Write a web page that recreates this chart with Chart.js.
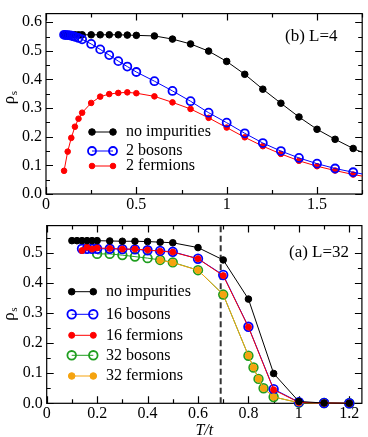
<!DOCTYPE html>
<html>
<head>
<meta charset="utf-8">
<script src="https://cdn.jsdelivr.net/npm/chart.js@4.4.0/dist/chart.umd.min.js"></script>
<style>
  html, body { margin: 0; padding: 0; background: #fff; }
  #wrap { position: relative; width: 368px; height: 437px; overflow: hidden; }
  #wrap canvas { position: absolute; left: 0; }
  #topChart { top: 0; }
  #bottomChart { top: 212px; }
</style>
</head>
<body>
<div id="wrap">
  <canvas id="topChart" width="368" height="212"></canvas>
  <canvas id="bottomChart" width="368" height="225"></canvas>
</div>
<script>
// (b) L=4
const l4Temps = [0.1, 0.12, 0.14, 0.16, 0.18, 0.2, 0.25, 0.3, 0.35, 0.4, 0.45, 0.5, 0.6, 0.7, 0.8, 0.9, 1.0, 1.1, 1.2, 1.3, 1.4, 1.5, 1.6, 1.7, 1.8];
const l4Pure = [0.556, 0.556, 0.556, 0.556, 0.556, 0.556, 0.556, 0.556, 0.556, 0.556, 0.555, 0.554, 0.552, 0.541, 0.524, 0.499, 0.463, 0.418, 0.366, 0.317, 0.269, 0.226, 0.191, 0.159, 0.132];
const l4Fermions = [0.081, 0.148, 0.196, 0.235, 0.263, 0.284, 0.318, 0.340, 0.349, 0.353, 0.355, 0.352, 0.341, 0.320, 0.297, 0.266, 0.232, 0.198, 0.167, 0.140, 0.116, 0.097, 0.082, 0.068, 0.057];
const l4BosonTemps = [0.1, 0.11, 0.12, 0.13, 0.14, 0.15, 0.16, 0.18, 0.2, 0.25, 0.3, 0.35, 0.4, 0.45, 0.5, 0.6, 0.7, 0.8, 0.9, 1.0, 1.1, 1.2, 1.3, 1.4, 1.5, 1.6, 1.7, 1.8];
const l4Bosons = [0.556, 0.555, 0.555, 0.554, 0.553, 0.551, 0.549, 0.545, 0.540, 0.524, 0.505, 0.485, 0.464, 0.445, 0.426, 0.394, 0.360, 0.324, 0.284, 0.249, 0.212, 0.178, 0.150, 0.126, 0.106, 0.089, 0.076, 0.064];

// (a) L=32
const l32Temps = [0.1, 0.12, 0.14, 0.16, 0.18, 0.2, 0.25, 0.3, 0.35, 0.4, 0.45, 0.5, 0.6, 0.7, 0.8, 0.9, 1.0, 1.1, 1.2];
const l32Pure = [0.540, 0.540, 0.540, 0.540, 0.540, 0.540, 0.539, 0.538, 0.538, 0.537, 0.535, 0.533, 0.517, 0.476, 0.346, 0.099, 0.006, 0.001, 0.000];
const l32Temps16 = [0.14, 0.16, 0.18, 0.2, 0.25, 0.3, 0.35, 0.4, 0.45, 0.5, 0.6, 0.7, 0.8, 0.9, 1.0, 1.1, 1.2];
const l32Bosons16 = [0.513, 0.513, 0.513, 0.513, 0.513, 0.512, 0.511, 0.508, 0.506, 0.503, 0.480, 0.426, 0.254, 0.047, 0.004, 0.001, 0.000];
const l32Fermions16 = [0.507, 0.518, 0.512, 0.516, 0.514, 0.512, 0.512, 0.509, 0.505, 0.502, 0.480, 0.424, 0.253, 0.045, 0.003, 0.001, 0.000];
const l32Temps32b = [0.2, 0.25, 0.3, 0.35, 0.4, 0.45, 0.5, 0.6, 0.7, 0.8, 0.82, 0.84, 0.86, 0.9, 1.0, 1.1, 1.2];
const l32Bosons32 = [0.496, 0.496, 0.492, 0.487, 0.482, 0.476, 0.468, 0.442, 0.361, 0.158, 0.119, 0.081, 0.050, 0.021, 0.002, 0.001, 0.000];
const l32Temps32f = [0.45, 0.5, 0.6, 0.7, 0.8, 0.82, 0.84, 0.86, 0.9, 1.0, 1.1, 1.2];
const l32Fermions32 = [0.475, 0.467, 0.442, 0.361, 0.158, 0.119, 0.081, 0.050, 0.021, 0.002, 0.001, 0.000];
const criticalTemp = [0.69, 0.69];
const criticalLine = [0, 0.59];

const serif = "'Liberation Serif', 'Times New Roman', serif";
const pts = (xs, ys) => xs.map((x, i) => ({ x, y: ys[i] }));

const drawMarker = (ctx, ds, x, y) => {
  ctx.beginPath();
  ctx.arc(x, y, ds.pointRadius, 0, Math.PI * 2);
  ctx.fillStyle = ds.pointBackgroundColor;
  ctx.fill();
  ctx.lineWidth = ds.pointBorderWidth;
  ctx.strokeStyle = ds.pointBorderColor;
  ctx.stroke();
};

// frame with inward ticks, legend, labels
const panelDecor = {
  id: "panelDecor",
  beforeDatasetsDraw(chart, args, opts) {
    const { ctx, chartArea: a, scales } = chart;
    ctx.save();
    ctx.strokeStyle = "#000";
    ctx.lineWidth = 1.2;
    ctx.strokeRect(a.left, a.top, a.right - a.left, a.bottom - a.top);
    ctx.beginPath();
    const sx = scales.x, sy = scales.y;
    for (let i = 0; i * opts.xMinor <= sx.max + 1e-9; i++) {
      const len = i % 2 === 0 ? 7 : 4;
      const px = Math.round(sx.getPixelForValue(i * opts.xMinor)) + 0.5;
      ctx.moveTo(px, a.bottom); ctx.lineTo(px, a.bottom - len);
      ctx.moveTo(px, a.top); ctx.lineTo(px, a.top + len);
    }
    for (let i = 0; i * opts.yMinor <= sy.max + 1e-9; i++) {
      const len = i % 2 === 0 ? 7 : 4;
      const py = Math.round(sy.getPixelForValue(i * opts.yMinor)) + 0.5;
      ctx.moveTo(a.left, py); ctx.lineTo(a.left + len, py);
      ctx.moveTo(a.right, py); ctx.lineTo(a.right - len, py);
    }
    ctx.stroke();
    ctx.restore();
  },
  afterDatasetsDraw(chart, args, opts) {
    const { ctx, chartArea: a } = chart;
    ctx.save();
    ctx.fillStyle = "#000";
    ctx.textBaseline = "middle";

    // legend
    ctx.font = "16px " + serif;
    opts.legend.forEach((item) => {
      const ds = chart.data.datasets[item.ds];
      ctx.beginPath();
      ctx.moveTo(opts.legendX[0], item.y);
      ctx.lineTo(opts.legendX[1], item.y);
      ctx.lineWidth = ds.borderWidth;
      ctx.strokeStyle = ds.borderColor;
      ctx.stroke();
      drawMarker(ctx, ds, opts.legendX[0], item.y);
      drawMarker(ctx, ds, opts.legendX[1], item.y);
      ctx.fillStyle = "#000";
      ctx.fillText(ds.label, opts.legendX[2], item.y);
    });

    // panel label
    ctx.font = "17px " + serif;
    ctx.fillText(opts.panel.text, opts.panel.x, opts.panel.y);

    // y title rho_s
    ctx.translate(opts.yTitle.x, (a.top + a.bottom) / 2 + opts.yTitle.dy);
    ctx.rotate(-Math.PI / 2);
    ctx.font = "17px " + serif;
    const w = ctx.measureText("ρ").width;
    ctx.font = "11px " + serif;
    const ws = ctx.measureText("s").width;
    ctx.font = "17px " + serif;
    ctx.fillText("ρ", -(w + ws) / 2, 0);
    ctx.font = "11px " + serif;
    ctx.fillText("s", -(w + ws) / 2 + w + 0.5, 4);
    ctx.restore();

    if (opts.xTitle) {
      ctx.save();
      ctx.fillStyle = "#000";
      ctx.textAlign = "center";
      ctx.textBaseline = "middle";
      ctx.font = "italic 16px " + serif;
      ctx.fillText(opts.xTitle.text, (a.left + a.right) / 2, opts.xTitle.y);
      ctx.restore();
    }
  },
};

const filled = (label, color, radius, xs, ys, order) => ({
  label, data: pts(xs, ys), order,
  borderColor: color, borderWidth: 1,
  pointRadius: radius, pointBackgroundColor: color, pointBorderColor: color, pointBorderWidth: 1,
});
const open = (label, color, radius, xs, ys, order) => ({
  label, data: pts(xs, ys), order,
  borderColor: color, borderWidth: 1,
  pointRadius: radius, pointBackgroundColor: "rgba(0,0,0,0)", pointBorderColor: color, pointBorderWidth: 1.8,
});

const makeOptions = (cfg) => ({
  responsive: false,
  animation: false,
  events: [],
  layout: { padding: cfg.padding },
  elements: { line: { tension: 0 } },
  plugins: { legend: { display: false }, tooltip: { enabled: false }, panelDecor: cfg.decor },
  scales: {
    x: {
      type: "linear", min: 0, max: cfg.xMax,
      grid: { display: false, drawTicks: false }, border: { display: false },
      ticks: {
        stepSize: cfg.xStep, includeBounds: false, autoSkip: false, maxRotation: 0, padding: 1,
        color: "#000", font: { family: serif, size: 16 },
        callback: (v) => String(+v.toFixed(2)),
      },
      afterFit: (s) => { s.height = cfg.xHeight; },
    },
    y: {
      type: "linear", min: 0, max: cfg.yMax,
      grid: { display: false, drawTicks: false }, border: { display: false },
      ticks: {
        stepSize: 0.1, includeBounds: false, autoSkip: false, padding: 4,
        color: "#000", font: { family: serif, size: 16 },
        callback: (v) => v.toFixed(1),
      },
      afterFit: (s) => { s.width = cfg.yWidth; },
    },
  },
});

document.addEventListener("DOMContentLoaded", () => {
  const topDatasets = [
    filled("no impurities", "#000000", 3.3, l4Temps, l4Pure, 1),
    open("2 bosons", "#0000ff", 4, l4BosonTemps, l4Bosons, 0),
    filled("2 fermions", "#ff0000", 2.8, l4Temps, l4Fermions, 1),
  ];
  topDatasets.forEach((ds) => { ds.clip = { left: 6, top: 6, bottom: 6, right: 0 }; });

  new Chart(document.getElementById("topChart"), {
    type: "line",
    data: { datasets: topDatasets },
    options: makeOptions({
      padding: { top: 2, right: 1, left: 0, bottom: 0 },
      xMax: 1.75, xStep: 0.5, yMax: 0.63, xHeight: 18, yWidth: 46,
      decor: {
        xMinor: 0.25, yMinor: 0.05,
        legendX: [92, 113, 126],
        legend: [{ ds: 0, y: 132 }, { ds: 1, y: 151 }, { ds: 2, y: 166 }],
        panel: { text: "(b) L=4", x: 285, y: 37 },
        yTitle: { x: 10, dy: -6 },
      },
    }),
    plugins: [panelDecor],
  });

  const bottomDatasets = [
    filled("no impurities", "#000000", 3.3, l32Temps, l32Pure, 0),
    open("16 bosons", "#0000ff", 4.3, l32Temps16, l32Bosons16, 2),
    filled("16 fermions", "#ff0000", 3, l32Temps16, l32Fermions16, 1),
    open("32 bosons", "#1f9e1f", 4.3, l32Temps32b, l32Bosons32, 2),
    filled("32 fermions", "#f5a30f", 3.3, l32Temps32f, l32Fermions32, 1),
    {
      label: "Tc", data: pts(criticalTemp, criticalLine), order: 3,
      borderColor: "#333", borderWidth: 2, borderDash: [6, 3.5], pointRadius: 0,
    },
  ];
  bottomDatasets.forEach((ds) => { ds.clip = 8; });

  new Chart(document.getElementById("bottomChart"), {
    type: "line",
    data: { datasets: bottomDatasets },
    options: makeOptions({
      padding: { top: 4.7, right: 1.3, left: 0, bottom: 0 },
      xMax: 1.25, xStep: 0.2, yMax: 0.59, xHeight: 33.7, yWidth: 46.7,
      decor: {
        xMinor: 0.1, yMinor: 0.05,
        legendX: [71.7, 93.3, 106],
        legend: [
          { ds: 0, y: 79.7 }, { ds: 1, y: 102.3 }, { ds: 2, y: 123.3 },
          { ds: 3, y: 143.3 }, { ds: 4, y: 164 },
        ],
        panel: { text: "(a) L=32", x: 289, y: 41 },
        yTitle: { x: 10, dy: 0 },
        xTitle: { text: "T/t", y: 219 },
      },
    }),
    plugins: [panelDecor],
  });
});
</script>
</body>
</html>
